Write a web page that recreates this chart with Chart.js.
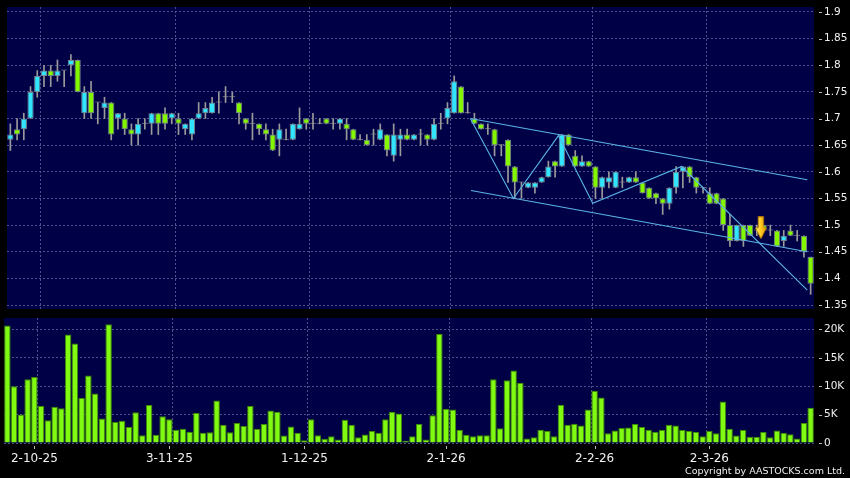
<!DOCTYPE html>
<html><head><meta charset="utf-8">
<script src="https://cdn.jsdelivr.net/npm/chart.js@4.4.1/dist/chart.umd.min.js"></script>
<style>
html,body{margin:0;padding:0;background:#000;width:850px;height:478px;overflow:hidden;}
#c1{position:absolute;left:0;top:0;}
#c2{position:absolute;left:0;top:318px;}
#copy{position:absolute;right:5px;top:465px;font-family:"DejaVu Sans";font-size:9.5px;color:#f0f0f0;white-space:nowrap;}
</style></head><body>
<canvas id="c1" width="850" height="318"></canvas>
<canvas id="c2" width="850" height="160"></canvas>
<div id="copy">Copyright by AASTOCKS.com Ltd.</div>
<script>
// ---- data ----
const opens = [
1.66,1.68,1.68,1.70,1.75,1.78,1.79,1.78,1.79,1.80,
1.81,1.71,1.75,1.73,1.72,1.73,1.70,1.70,1.68,1.67,
1.69,1.69,1.71,1.71,1.70,1.70,1.68,1.67,1.70,1.71,
1.71,1.73,1.74,1.74,1.73,1.70,1.69,1.69,1.68,1.67,
1.66,1.66,1.66,1.68,1.70,1.69,1.69,1.70,1.69,1.69,
1.69,1.68,1.66,1.66,1.67,1.66,1.67,1.63,1.66,1.67,
1.66,1.67,1.67,1.66,1.69,1.70,1.71,1.76,1.71,1.70,
1.69,1.68,1.68,1.65,1.66,1.61,1.58,1.57,1.57,1.58,
1.59,1.62,1.61,1.67,1.63,1.61,1.62,1.61,1.57,1.58,
1.57,1.58,1.58,1.59,1.58,1.57,1.56,1.55,1.54,1.57,
1.60,1.61,1.59,1.57,1.56,1.56,1.55,1.50,1.47,1.50,
1.50,1.49,1.50,1.49,1.49,1.47,1.49,1.48,1.48,1.44];
const highs = [
1.69,1.70,1.71,1.76,1.79,1.80,1.80,1.81,1.79,1.82,
1.81,1.76,1.77,1.73,1.74,1.73,1.71,1.71,1.69,1.70,
1.70,1.71,1.71,1.72,1.71,1.71,1.69,1.70,1.73,1.73,
1.74,1.75,1.76,1.75,1.73,1.70,1.71,1.69,1.69,1.68,
1.69,1.68,1.69,1.72,1.70,1.71,1.70,1.70,1.70,1.70,
1.70,1.68,1.67,1.67,1.68,1.69,1.67,1.69,1.68,1.68,
1.67,1.68,1.67,1.70,1.71,1.73,1.78,1.76,1.73,1.71,
1.69,1.69,1.68,1.65,1.66,1.61,1.58,1.58,1.58,1.59,
1.62,1.62,1.67,1.67,1.64,1.63,1.62,1.61,1.59,1.60,
1.60,1.59,1.59,1.60,1.58,1.57,1.56,1.55,1.57,1.61,
1.61,1.61,1.59,1.57,1.57,1.56,1.55,1.52,1.50,1.50,
1.50,1.50,1.50,1.50,1.49,1.49,1.50,1.49,1.48,1.44];
const lows = [
1.64,1.66,1.66,1.70,1.74,1.76,1.76,1.77,1.76,1.78,
1.75,1.70,1.70,1.69,1.70,1.66,1.68,1.67,1.65,1.65,
1.68,1.67,1.67,1.68,1.69,1.67,1.67,1.66,1.70,1.70,
1.71,1.71,1.73,1.73,1.69,1.68,1.66,1.67,1.66,1.64,
1.63,1.66,1.66,1.68,1.68,1.68,1.69,1.69,1.68,1.68,
1.66,1.66,1.66,1.65,1.65,1.66,1.63,1.62,1.63,1.66,
1.66,1.65,1.65,1.66,1.68,1.69,1.71,1.71,1.71,1.69,
1.68,1.67,1.63,1.63,1.58,1.55,1.55,1.57,1.56,1.58,
1.59,1.59,1.61,1.65,1.61,1.61,1.61,1.55,1.55,1.57,
1.57,1.57,1.58,1.58,1.56,1.55,1.54,1.52,1.53,1.56,
1.57,1.58,1.56,1.56,1.54,1.54,1.49,1.46,1.47,1.46,
1.48,1.48,1.49,1.48,1.46,1.46,1.48,1.47,1.44,1.37];
const closes = [
1.67,1.67,1.70,1.75,1.78,1.79,1.78,1.79,1.79,1.81,
1.75,1.75,1.71,1.73,1.73,1.67,1.71,1.68,1.67,1.69,
1.69,1.71,1.69,1.69,1.71,1.69,1.69,1.70,1.71,1.72,
1.73,1.73,1.74,1.74,1.71,1.69,1.69,1.68,1.67,1.64,
1.68,1.66,1.69,1.69,1.69,1.69,1.69,1.69,1.69,1.70,
1.68,1.66,1.66,1.65,1.67,1.68,1.64,1.67,1.67,1.66,
1.67,1.67,1.66,1.69,1.69,1.72,1.77,1.71,1.71,1.69,
1.68,1.68,1.65,1.65,1.61,1.58,1.58,1.58,1.58,1.59,
1.61,1.61,1.67,1.65,1.61,1.62,1.61,1.57,1.59,1.59,
1.60,1.58,1.59,1.58,1.56,1.55,1.55,1.54,1.57,1.60,
1.61,1.59,1.57,1.57,1.54,1.54,1.50,1.47,1.50,1.47,
1.48,1.49,1.49,1.49,1.46,1.48,1.48,1.48,1.45,1.39];
// volume, thousands of shares
const volumes = [
20.7,10.0,5.0,11.2,11.6,6.5,4.0,6.4,6.1,19.1,
17.5,7.9,11.9,8.7,4.3,20.9,3.7,3.9,2.8,5.4,
1.35,6.7,1.45,4.7,4.2,2.35,2.5,2.0,5.3,1.8,
1.9,7.5,3.2,1.9,3.5,3.0,6.5,2.5,3.35,5.7,
5.5,1.3,2.9,1.8,0.5,4.2,1.35,0.75,1.2,0.6,
4.1,3.2,1.0,1.5,2.1,1.8,4.2,5.5,5.2,0.4,
1.2,3.35,0.6,4.9,19.2,6.0,5.9,2.35,1.45,1.2,
1.35,1.35,11.2,2.6,11.05,12.75,10.6,0.8,1.0,2.35,
2.1,1.2,6.75,3.2,3.4,3.1,5.9,9.2,8.0,1.7,
2.2,2.65,2.75,3.35,2.8,2.35,2.0,2.3,3.2,3.1,
2.3,2.1,1.95,1.2,2.1,1.7,7.3,2.5,1.3,2.3,
1.1,1.1,1.95,1.0,2.2,1.8,1.55,0.8,3.5,6.2];
const priceTicks = [1.35,1.4,1.45,1.5,1.55,1.6,1.65,1.7,1.75,1.8,1.85,1.9];
const volumeTicks = [0,5,10,15,20];
const dateLabels = ['2-10-25','3-11-25','1-12-25','2-1-26','2-2-26','2-3-26'];
const dateIndex = [4,24,44,65,87,104];
const gridIndex = [4.5,24.5,44.5,65.5,86.5,103.5];
// trend lines: [candle index, price]
const channelUpper = [[68.4,1.700],[118.5,1.585]];
const channelLower = [[68.5,1.565],[118.5,1.450]];
const zigzag = [[68.4,1.700],[74.8,1.550],[81.5,1.668],[86.6,1.541],[99.8,1.610],[118.5,1.378]];
const signalArrow = [111.6,1.495];

// ---- styles ----
const N = opens.length;
const idx = opens.map((_, i) => i);
const UP = '#33e4ff', DOWN = '#84f600', DOJI = '#9a9a9a';
const gridColor = '#50508c';
const lineColor = '#5ab4e6';
const labelColor = '#f0f0f0';
const priceMin = 1.35 - 4 / 534.5, priceMax = 1.9 + 5 / 534.5;

const panelBg = {
  id: 'panelBg',
  beforeDraw(chart) {
    const {ctx, chartArea: a} = chart;
    ctx.save(); ctx.fillStyle = '#000046';
    ctx.fillRect(a.left, a.top, a.right - a.left, a.bottom - a.top);
    ctx.restore();
  }
};
const tickDash = {
  id: 'tickDash',
  afterDraw(chart) {
    const ctx = chart.ctx; ctx.save();
    ctx.strokeStyle = '#bbbbbb'; ctx.lineWidth = 1;
    const y = chart.scales.y;
    y.ticks.forEach(t => {
      const p = Math.round(y.getPixelForValue(t.value)) + 0.5;
      ctx.beginPath(); ctx.moveTo(y.left + 5, p); ctx.lineTo(y.left + 8, p); ctx.stroke();
    });
    const x2 = chart.scales.x2;
    if (x2) x2.ticks.forEach(t => {
      const p = Math.round(x2.getPixelForValue(t.value)) + 0.5;
      ctx.beginPath(); ctx.moveTo(p, x2.top + 3); ctx.lineTo(p, x2.top + 6); ctx.stroke();
    });
    ctx.restore();
  }
};
function makeArrow() {
  const c = document.createElement('canvas'); c.width = 12; c.height = 23;
  const g = c.getContext('2d');
  const grad = g.createLinearGradient(0, 0, 12, 0);
  grad.addColorStop(0, '#fff08a'); grad.addColorStop(0.5, '#ffc81e'); grad.addColorStop(1, '#e8960a');
  g.fillStyle = grad; g.beginPath();
  g.moveTo(3.3, 0.5); g.lineTo(8.7, 0.5); g.lineTo(8.7, 11.5); g.lineTo(11.5, 11.5);
  g.lineTo(6, 22.5); g.lineTo(0.5, 11.5); g.lineTo(3.3, 11.5); g.closePath(); g.fill();
  g.strokeStyle = '#b87800'; g.lineWidth = 0.8; g.stroke();
  return c;
}
const colorOf = i => closes[i] > opens[i] ? UP : (closes[i] < opens[i] ? DOWN : DOJI);
const tickFont = {family: 'DejaVu Sans', size: 10.5};
const noPad = s => { s.paddingTop = 0; s.paddingBottom = 0; s.paddingLeft = 0; s.paddingRight = 0; };
const xGrid = () => ({
  type: 'linear', min: -0.5, max: N - 0.5, offset: false,
  grid: {offset: false, color: gridColor, drawTicks: false},
  border: {display: false, dash: [2, 2]},
  ticks: {display: false, padding: 0},
  afterBuildTicks: s => { s.ticks = gridIndex.map(v => ({value: v})); },
  afterFit: s => { s.height = 0; noPad(s); }
});
const lineDs = pts => ({type: 'line', data: pts.map(p => ({x: p[0], y: p[1]})), borderColor: lineColor,
  borderWidth: 1.1, pointRadius: 0, tension: 0, fill: false, order: 0});

new Chart(document.getElementById('c1'), {
  type: 'bar',
  data: {datasets: [
    lineDs(zigzag), lineDs(channelUpper), lineDs(channelLower),
    {type: 'scatter', data: [{x: signalArrow[0], y: signalArrow[1]}], pointStyle: makeArrow(), pointRadius: 6, order: -1},
    {type: 'bar', data: idx.map(i => ({x: i, y: [opens[i], closes[i]]})),
      backgroundColor: idx.map(colorOf),
      borderColor: idx.map(i => closes[i] === opens[i] ? DOJI : '#75858c'),
      borderWidth: 1, borderSkipped: false, grouped: false, barPercentage: 0.93, categoryPercentage: 1,
      minBarLength: 1, order: 1},
    {type: 'bar', data: idx.map(i => ({x: i, y: [lows[i], highs[i]]})),
      backgroundColor: DOJI, barThickness: 1, grouped: false, order: 2}
  ]},
  options: {
    responsive: false, animation: false, devicePixelRatio: 1,
    layout: {padding: {left: 4, top: 6, right: 0, bottom: 9}},
    plugins: {legend: {display: false}, tooltip: {enabled: false}},
    scales: {
      x: xGrid(),
      y: {position: 'right', min: priceMin, max: priceMax,
        grid: {color: gridColor, drawTicks: false}, border: {display: false, dash: [2, 2]},
        ticks: {color: labelColor, font: tickFont, padding: 10, callback: v => String(+(+v).toFixed(2))},
        afterBuildTicks: s => { s.ticks = priceTicks.map(v => ({value: v})); },
        afterFit: s => { s.width = 36; noPad(s); }}
    }
  },
  plugins: [panelBg, tickDash]
});

new Chart(document.getElementById('c2'), {
  type: 'bar',
  data: {datasets: [
    {data: idx.map(i => ({x: i, y: volumes[i]})), backgroundColor: '#80fa10', borderColor: '#3d8a00',
      borderWidth: 1, barPercentage: 0.96, categoryPercentage: 1, grouped: false}
  ]},
  options: {
    responsive: false, animation: false, devicePixelRatio: 1,
    layout: {padding: {left: 4, top: 0, right: 0, bottom: 0}},
    plugins: {legend: {display: false}, tooltip: {enabled: false}},
    scales: {
      x: xGrid(),
      x2: {type: 'linear', position: 'bottom', min: -0.5, max: N - 0.5, offset: false,
        grid: {display: false}, border: {display: false},
        ticks: {color: labelColor, font: {family: 'DejaVu Sans', size: 12}, padding: 1, maxRotation: 0, autoSkip: false,
          callback: (v, i) => dateLabels[i]},
        afterBuildTicks: s => { s.ticks = dateIndex.map(v => ({value: v})); },
        afterFit: s => { s.height = 35; noPad(s); }},
      y: {position: 'right', min: 0, max: 22,
        grid: {color: gridColor, drawTicks: false}, border: {display: false, dash: [2, 2]},
        ticks: {color: labelColor, font: tickFont, padding: 10, callback: v => v === 0 ? '0' : v + 'K'},
        afterBuildTicks: s => { s.ticks = volumeTicks.map(v => ({value: v})); },
        afterFit: s => { s.width = 36; noPad(s); }}
    }
  },
  plugins: [panelBg, tickDash]
});
</script>
</body></html>
